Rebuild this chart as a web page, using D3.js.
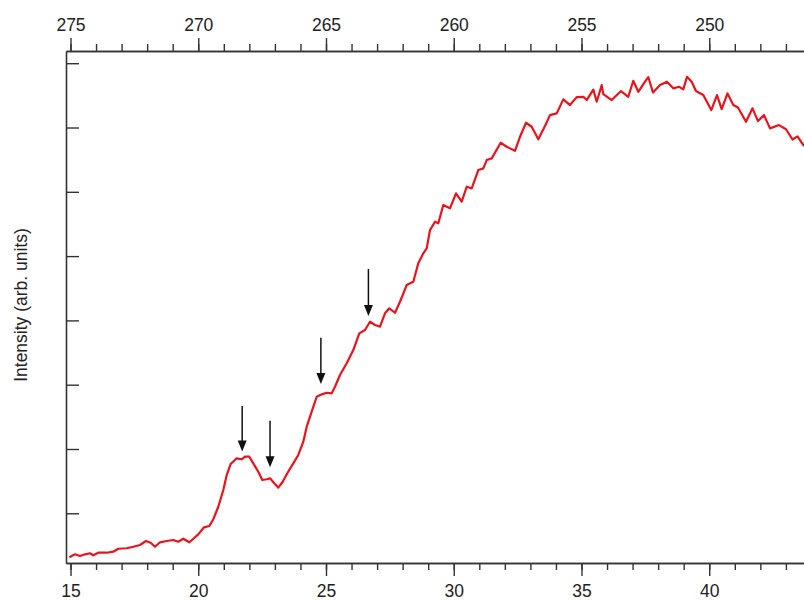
<!DOCTYPE html>
<html><head><meta charset="utf-8">
<script src="https://cdn.jsdelivr.net/npm/d3@7"></script>
<style>body{margin:0;background:#fff}svg{display:block}text{font-family:"Liberation Sans",Arial,sans-serif}</style>
</head><body>
<script>
// Bottom-axis coordinate (eV) and intensity (arb. units)
const xVals = [14.953,15.176,15.372,15.568,15.763,15.892,16.088,16.417,16.675,16.871,17.200,17.458,17.720,17.955,18.139,18.307,18.503,18.765,19.023,19.219,19.415,19.650,19.806,20.002,20.225,20.433,20.589,20.785,20.981,21.114,21.270,21.505,21.701,21.830,21.998,22.155,22.350,22.507,22.679,22.808,22.977,23.133,23.305,23.485,23.720,23.916,24.112,24.245,24.440,24.636,24.832,25.027,25.223,25.352,25.548,25.810,26.068,26.303,26.526,26.722,26.918,27.114,27.309,27.478,27.701,27.896,28.158,28.417,28.612,28.808,28.941,29.070,29.266,29.395,29.591,29.853,30.088,30.311,30.507,30.703,30.961,31.157,31.290,31.485,31.838,32.072,32.397,32.593,32.828,33.051,33.309,33.571,33.767,34.029,34.288,34.550,34.812,35.071,35.204,35.462,35.595,35.791,35.854,36.182,36.546,36.832,37.027,37.223,37.485,37.614,37.798,38.072,38.346,38.593,38.816,38.984,39.129,39.313,39.481,39.767,40.080,40.303,40.487,40.714,40.941,41.125,41.438,41.693,41.908,42.143,42.378,42.730,43.004,43.258,43.454,43.708];
const yVals = [0.316,0.362,0.336,0.362,0.378,0.347,0.387,0.387,0.403,0.449,0.456,0.480,0.507,0.569,0.543,0.480,0.549,0.569,0.585,0.558,0.605,0.549,0.605,0.673,0.782,0.802,0.907,1.102,1.362,1.595,1.767,1.855,1.840,1.880,1.880,1.777,1.647,1.518,1.529,1.544,1.466,1.398,1.491,1.622,1.777,1.907,2.113,2.347,2.580,2.813,2.850,2.875,2.866,2.969,3.151,3.333,3.539,3.799,3.850,3.979,3.928,3.902,4.110,4.188,4.119,4.290,4.550,4.601,4.888,5.043,5.121,5.405,5.535,5.510,5.794,5.743,5.976,5.846,6.079,6.054,6.338,6.365,6.494,6.520,6.763,6.701,6.638,6.856,7.074,7.012,6.816,7.023,7.193,7.220,7.438,7.349,7.473,7.478,7.427,7.590,7.401,7.660,7.520,7.427,7.567,7.478,7.727,7.556,7.712,7.785,7.544,7.660,7.712,7.609,7.634,7.593,7.789,7.712,7.567,7.505,7.271,7.505,7.287,7.531,7.349,7.310,7.090,7.298,7.100,7.193,6.987,7.038,6.973,6.813,6.863,6.712];
const bottomTicks = [15,20,25,30,35,40];
const bottomMinor = d3.range(15,44,1);
const topTicks = [275,270,265,260,255,250];
const topMinor = d3.range(247,276,1);
const leftTicks = [1,2,3,4,5,6,7,8];
// arrows: x position, start (top) intensity, tip intensity
const arrowX = [21.72,22.81,24.80,26.66];
const arrowTop = [2.67,2.44,3.73,4.80];
const arrowTip = [1.96,1.716,3.01,4.07];
const yLabel = "Intensity (arb. units)";

const W=804,H=601;
const svg=d3.select("body").append("svg").attr("width",W).attr("height",H);
const L=66, T=51, B=563;
const x=d3.scaleLinear().domain([14.824,44]).range([L,L+(44-14.824)*25.55]);
const xTop=d3.scaleLinear().domain([290-14.824,290-44]).range(x.range());
const y=d3.scaleLinear().domain([0.227,8.19]).range([B,T]);
const axCol="#333";
const fs="17.5px";

function style(g){
  g.select(".domain").attr("stroke",axCol).attr("stroke-width",1.6);
  g.selectAll(".tick line").attr("stroke",axCol).attr("stroke-width",1.4);
  g.selectAll(".tick text").attr("fill","#222").style("font-size",fs).style("font-family","'Liberation Sans',Arial,sans-serif");
}
// minor ticks
svg.append("g").attr("transform",`translate(0,${B})`)
  .call(d3.axisBottom(x).tickValues(bottomMinor).tickSize(7).tickFormat("").tickSizeOuter(0))
  .call(style);
svg.append("g").attr("transform",`translate(0,${B})`)
  .call(d3.axisBottom(x).tickValues(bottomTicks).tickSize(13).tickPadding(9).tickFormat(d3.format("d")).tickSizeOuter(0))
  .call(style);
svg.append("g").attr("transform",`translate(0,${T})`)
  .call(d3.axisTop(xTop).tickValues(topMinor).tickSize(7).tickFormat("").tickSizeOuter(0))
  .call(style);
svg.append("g").attr("transform",`translate(0,${T})`)
  .call(d3.axisTop(xTop).tickValues(topTicks).tickSize(13).tickPadding(7.5).tickFormat(d3.format("d")).tickSizeOuter(0))
  .call(style);
svg.append("g").attr("transform",`translate(${L},0)`)
  .call(d3.axisLeft(y).tickValues(leftTicks).tickSize(-13).tickFormat("").tickSizeOuter(0))
  .call(style);

svg.append("text").attr("transform",`translate(27,305) rotate(-90)`)
  .attr("text-anchor","middle").style("font-size",fs).attr("fill","#222").text(yLabel);

const data=xVals.map((v,i)=>[v,yVals[i]]);
svg.append("path").datum(data)
  .attr("fill","none").attr("stroke","#e8141c").attr("stroke-width",2.2)
  .attr("stroke-linejoin","round")
  .attr("d",d3.line().x(d=>x(d[0])).y(d=>y(d[1])));

// arrows
const ag=svg.append("g");
arrowX.forEach((ax,i)=>{
  const px=x(ax), y0=y(arrowTop[i]), y1=y(arrowTip[i]);
  ag.append("line").attr("x1",px).attr("x2",px).attr("y1",y0).attr("y2",y1-9)
    .attr("stroke","#111").attr("stroke-width",1.5);
  ag.append("path").attr("d",`M${px-4.5},${y1-11}L${px+4.5},${y1-11}L${px},${y1}Z`).attr("fill","#111");
});
</script>
</body></html>
